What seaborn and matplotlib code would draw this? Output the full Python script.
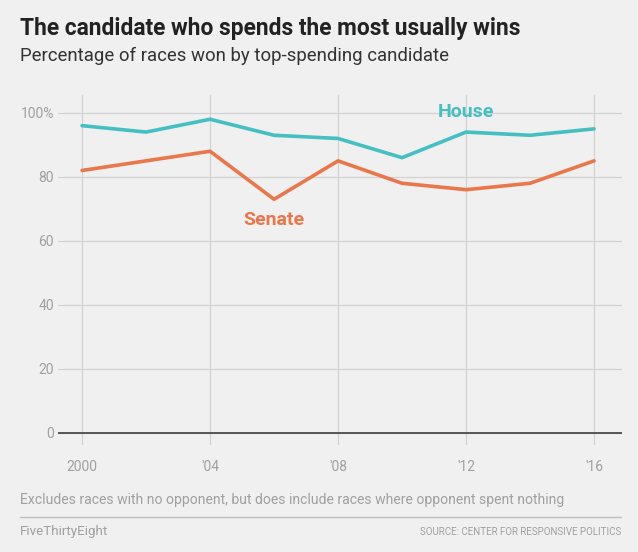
import matplotlib.pyplot as plt
import seaborn as sns
import pandas as pd

years = [2000, 2002, 2004, 2006, 2008, 2010, 2012, 2014, 2016]
house = [96, 94, 98, 93, 92, 86, 94, 93, 95]
senate = [82, 85, 88, 73, 85, 78, 76, 78, 85]
year_ticks = [2000, 2004, 2008, 2012, 2016]
year_labels = ['2000', "'04", "'08", "'12", "'16"]
pct_ticks = [0, 20, 40, 60, 80, 100]
pct_labels = ['0', '20', '40', '60', '80', '100%']

df = pd.DataFrame({'Year': years * 2,
                   'Pct': house + senate,
                   'Chamber': ['House'] * len(years) + ['Senate'] * len(years)})

bg = '#f0f0f0'
colors = {'House': '#45bfc2', 'Senate': '#e9774b'}

sns.set_theme(style='white')
plt.rcParams['font.family'] = ['Roboto', 'DejaVu Sans']

fig = plt.figure(figsize=(6.38, 5.52), dpi=100, facecolor=bg)
ax = fig.add_axes([0.091, 0.194, 0.884, 0.634])
ax.set_facecolor(bg)

sns.lineplot(data=df, x='Year', y='Pct', hue='Chamber', palette=colors,
             linewidth=2.6, legend=False, ax=ax)

ax.set_xlim(1999.25, 2016.875)
ax.set_ylim(-3.75, 105.6)
ax.set_xticks(year_ticks)
ax.set_yticks(pct_ticks)
ax.grid(True, color='#d2d2d2', linewidth=0.9)
ax.axhline(0, color='#555555', linewidth=1.4, zorder=1)
for s in ax.spines.values():
    s.set_visible(False)

ax.set_xticklabels(year_labels, fontsize=10, color='#a0a0a0')
ax.set_yticklabels(pct_labels, fontsize=10, color='#a0a0a0')
ax.tick_params(axis='x', length=0, pad=11)
ax.tick_params(axis='y', length=0, pad=3)
ax.set_xlabel('')
ax.set_ylabel('')

ax.text(2012, 100.3, 'House', color=colors['House'], fontsize=14, fontweight='bold',
        ha='center', va='center')
ax.text(2006, 66.6, 'Senate', color=colors['Senate'], fontsize=14, fontweight='bold',
        ha='center', va='center')

fig.text(20 / 638, 1 - 28 / 552, 'The candidate who spends the most usually wins',
         fontsize=16.4, fontweight='bold', color='#222222', va='center')
fig.text(20 / 638, 1 - 56 / 552, 'Percentage of races won by top-spending candidate',
         fontsize=13.4, color='#333333', va='center')
fig.text(20 / 638, 1 - 500 / 552,
         'Excludes races with no opponent, but does include races where opponent spent nothing',
         fontsize=10.1, color='#a0a0a0', va='center')
fig.add_artist(plt.Line2D([20 / 638, 621 / 638], [1 - 517 / 552] * 2,
                          color='#bdbdbd', linewidth=1, transform=fig.transFigure))
fig.text(20 / 638, 1 - 532 / 552, 'FiveThirtyEight', fontsize=9.6, color='#a0a0a0', va='center')
fig.text(621 / 638, 1 - 532 / 552, 'SOURCE: CENTER FOR RESPONSIVE POLITICS',
         fontsize=7, color='#a0a0a0', va='center', ha='right')

plt.savefig('out.png', dpi=100, facecolor=bg)
